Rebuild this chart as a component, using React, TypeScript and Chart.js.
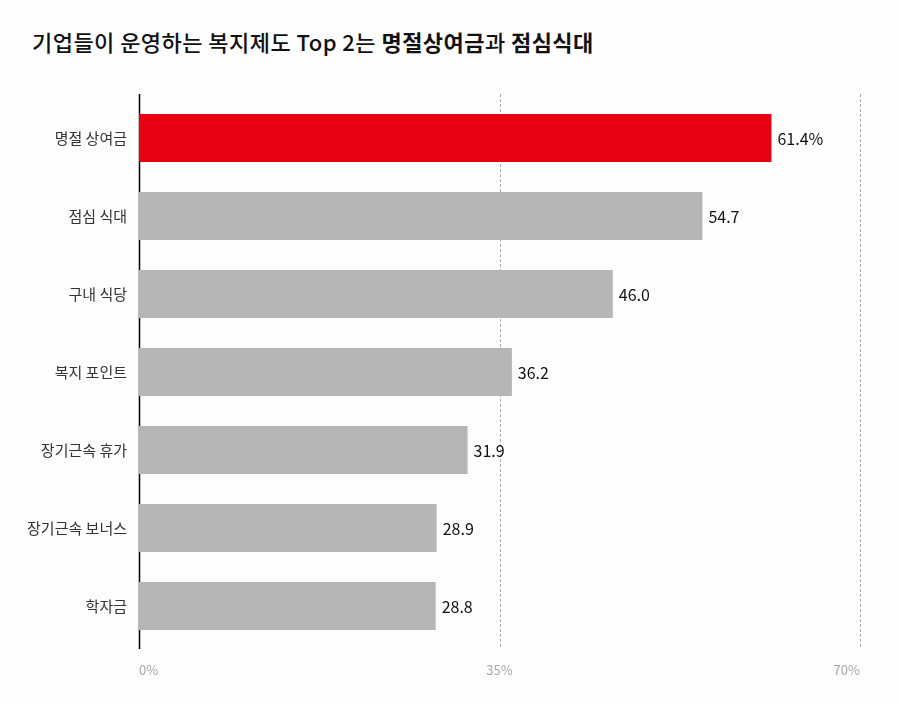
import { useEffect, useRef } from 'react';
import { Chart, registerables, Plugin } from 'chart.js';

Chart.register(...registerables);

const categories = ['명절 상여금', '점심 식대', '구내 식당', '복지 포인트', '장기근속 휴가', '장기근속 보너스', '학자금'];
const values = [61.4, 54.7, 46.0, 36.2, 31.9, 28.9, 28.8];
const highlightIndex = 0;
const tickValues = [0, 35, 70];

const RED = '#e60012';
const GRAY = '#b5b6b5';
const FONT = '"Noto Sans CJK KR", "Noto Sans", sans-serif';

// vertical guide lines that run a few px past the chart area, like the original
const guideLines: Plugin<'bar'> = {
  id: 'guideLines',
  beforeDatasetsDraw(chart) {
    const { ctx, chartArea, scales } = chart;
    const x = scales.x;
    ctx.save();
    tickValues.forEach(v => {
      const px = Math.round(x.getPixelForValue(v)) + 0.5;
      ctx.beginPath();
      if (v === 0) {
        ctx.setLineDash([]);
        ctx.strokeStyle = '#000';
        ctx.lineWidth = 1.5;
      } else {
        ctx.setLineDash([3, 2]);
        ctx.strokeStyle = '#aaaaaa';
        ctx.lineWidth = 1;
      }
      ctx.moveTo(px, chartArea.top - 5);
      ctx.lineTo(px, chartArea.bottom + 4);
      ctx.stroke();
    });
    ctx.restore();
  }
};

const valueLabels: Plugin<'bar'> = {
  id: 'valueLabels',
  afterDatasetsDraw(chart) {
    const { ctx } = chart;
    const meta = chart.getDatasetMeta(0);
    ctx.save();
    ctx.font = `16px ${FONT}`;
    ctx.fillStyle = '#111';
    ctx.textAlign = 'left';
    ctx.textBaseline = 'middle';
    meta.data.forEach((bar, i) => {
      const text = values[i].toFixed(1) + (i === highlightIndex ? '%' : '');
      ctx.fillText(text, bar.x + 6, bar.y + 1);
    });
    ctx.restore();
  }
};

export default function App() {
  const canvasRef = useRef<HTMLCanvasElement>(null);
  const chartRef = useRef<Chart | null>(null);

  useEffect(() => {
    if (!canvasRef.current) return;
    if (chartRef.current) chartRef.current.destroy();

    chartRef.current = new Chart(canvasRef.current, {
      type: 'bar',
      data: {
        labels: categories,
        datasets: [
          {
            data: values,
            backgroundColor: values.map((_, i) => (i === highlightIndex ? RED : GRAY)),
            borderWidth: 0,
            categoryPercentage: 1,
            barPercentage: 0.615
          }
        ]
      },
      options: {
        indexAxis: 'y',
        animation: false,
        responsive: false,
        maintainAspectRatio: false,
        layout: { padding: { top: 99, right: 40, bottom: 0, left: 0 } },
        plugins: {
          legend: { display: false },
          tooltip: { enabled: false }
        },
        scales: {
          x: {
            type: 'linear',
            min: 0,
            max: 70,
            afterBuildTicks: scale => {
              scale.ticks = tickValues.map(v => ({ value: v }));
            },
            afterFit: scale => {
              scale.height = 60;
            },
            grid: { display: false },
            border: { display: false },
            ticks: {
              align: 'inner',
              padding: 9,
              color: '#a8a8a8',
              font: { family: FONT, size: 13 },
              callback: v => v + '%'
            }
          },
          y: {
            afterFit: scale => {
              scale.width = 139;
            },
            grid: { display: false, drawTicks: false },
            border: { display: false },
            ticks: {
              padding: 12,
              color: '#333',
              font: { family: FONT, size: 15 }
            }
          }
        }
      },
      plugins: [guideLines, valueLabels]
    });

    return () => {
      if (chartRef.current) {
        chartRef.current.destroy();
        chartRef.current = null;
      }
    };
  }, []);

  return (
    <div style={{ position: 'fixed', left: 0, top: 0, width: 900, height: 705, background: '#fdfdfd' }}>
      <div
        style={{
          position: 'absolute',
          left: 32,
          top: 25,
          fontFamily: FONT,
          fontSize: 22,
          fontWeight: 500,
          letterSpacing: 0.45,
          color: '#111',
          whiteSpace: 'nowrap'
        }}
      >
        기업들이 운영하는 복지제도 Top 2는 <b style={{ fontWeight: 700 }}>명절상여금</b>과 <b style={{ fontWeight: 700 }}>점심식대</b>
      </div>
      <canvas ref={canvasRef} width={900} height={705} style={{ position: 'absolute', left: 0, top: 0 }} />
    </div>
  );
}
